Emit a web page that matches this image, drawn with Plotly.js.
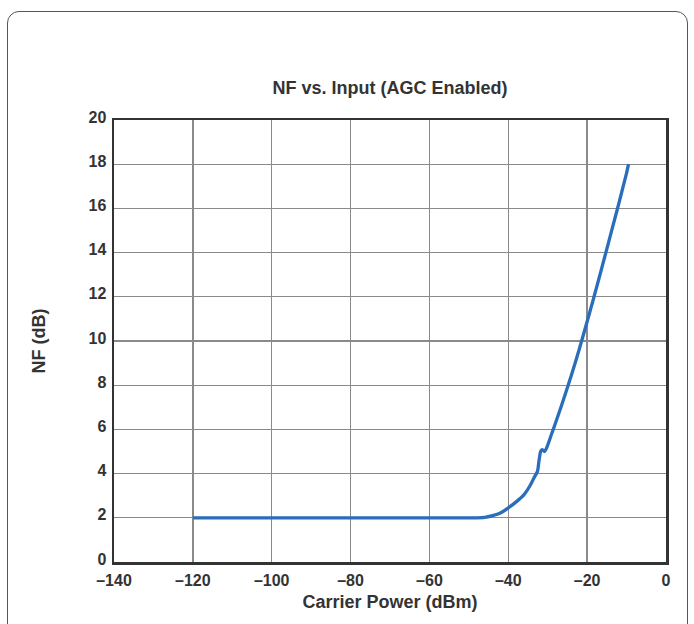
<!DOCTYPE html>
<html>
<head>
<meta charset="utf-8">
<script src="https://cdn.plot.ly/plotly-3.0.1.min.js"></script>
<style>
  html, body { margin: 0; padding: 0; background: #ffffff; }
  #frame { position: absolute; left: 7px; top: 11px; width: 681px; height: 650px;
           border: 1.5px solid #555; border-radius: 12px; box-sizing: border-box; }
  #chart { position: absolute; left: 0; top: 0; width: 694px; height: 624px; }
</style>
</head>
<body>
<div id="frame"></div>
<div id="chart"></div>
<script>
// Carrier power (dBm)
const carrierPower = [-120, -48, -46, -44, -42, -40, -38, -36, -34.5, -33.5, -32.6, -32.2, -31.8, -31.4, -30.8, -30.2, -29, -28, -27, -26, -25, -24, -23, -22, -21, -20, -19, -18, -17, -16, -15, -14, -13, -12, -11, -10, -9.5];
// Noise figure (dB)
const noiseFigure = [2.0, 2.0, 2.02, 2.1, 2.22, 2.45, 2.72, 3.05, 3.45, 3.8, 4.1, 4.6, 5.0, 5.08, 5.0, 5.2, 5.8, 6.3, 6.82, 7.35, 7.9, 8.45, 9.03, 9.63, 10.25, 10.88, 11.52, 12.17, 12.83, 13.5, 14.17, 14.85, 15.52, 16.2, 16.9, 17.6, 18.0];

const xTickVals = [-140, -120, -100, -80, -60, -40, -20, 0];
const xTickText = ['\u2013140', '\u2013120', '\u2013100', '\u201380', '\u201360', '\u201340', '\u201320', '0'];
const yTickVals = [0, 2, 4, 6, 8, 10, 12, 14, 16, 18, 20];

const fontFam = '"Liberation Sans", Arial, Helvetica, sans-serif';
const txt = '#333333';

const trace = {
  x: carrierPower,
  y: noiseFigure,
  type: 'scatter',
  mode: 'lines',
  line: { color: '#2a6ebb', width: 3.3, shape: 'spline', smoothing: 0.6 },
  hoverinfo: 'x+y'
};

const layout = {
  width: 694, height: 624,
  margin: { l: 114, r: 28, t: 120, b: 62, pad: 0 },
  paper_bgcolor: 'rgba(0,0,0,0)',
  plot_bgcolor: '#ffffff',
  showlegend: false,
  font: { family: fontFam, color: txt, size: 16, weight: 'bold' },
  title: {
    text: '<b>NF vs. Input (AGC Enabled)</b>',
    font: { family: fontFam, size: 18, color: txt },
    xref: 'paper', x: 0.5, xanchor: 'center',
    yref: 'container', y: 1 - 88 / 624, yanchor: 'middle'
  },
  xaxis: {
    range: [-140, 0],
    tickmode: 'array', tickvals: xTickVals, ticktext: xTickText,
    showgrid: true, gridcolor: '#8a8a8a', gridwidth: 1.3,
    showline: true, mirror: true, linecolor: '#333333', linewidth: 2.5,
    zeroline: false, ticks: '', ticklabelstandoff: 2,
    tickfont: { family: fontFam, size: 16, color: txt, weight: 'bold' },
    title: { text: '<b>Carrier Power (dBm)</b>', font: { family: fontFam, size: 18, color: txt }, standoff: 8 },
    automargin: false, fixedrange: true
  },
  yaxis: {
    range: [0, 20],
    tickmode: 'array', tickvals: yTickVals,
    showgrid: true, gridcolor: '#8a8a8a', gridwidth: 1.3,
    showline: true, mirror: true, linecolor: '#333333', linewidth: 2.5,
    zeroline: false, ticks: '', ticklabelshift: -3, ticklabelstandoff: 2,
    tickfont: { family: fontFam, size: 16, color: txt, weight: 'bold' },
    title: { text: '<b>NF (dB)</b>', font: { family: fontFam, size: 18, color: txt }, standoff: 38 },
    automargin: false, fixedrange: true
  }
};

Plotly.newPlot('chart', [trace], layout, { displayModeBar: false, staticPlot: true });
</script>
</body>
</html>
